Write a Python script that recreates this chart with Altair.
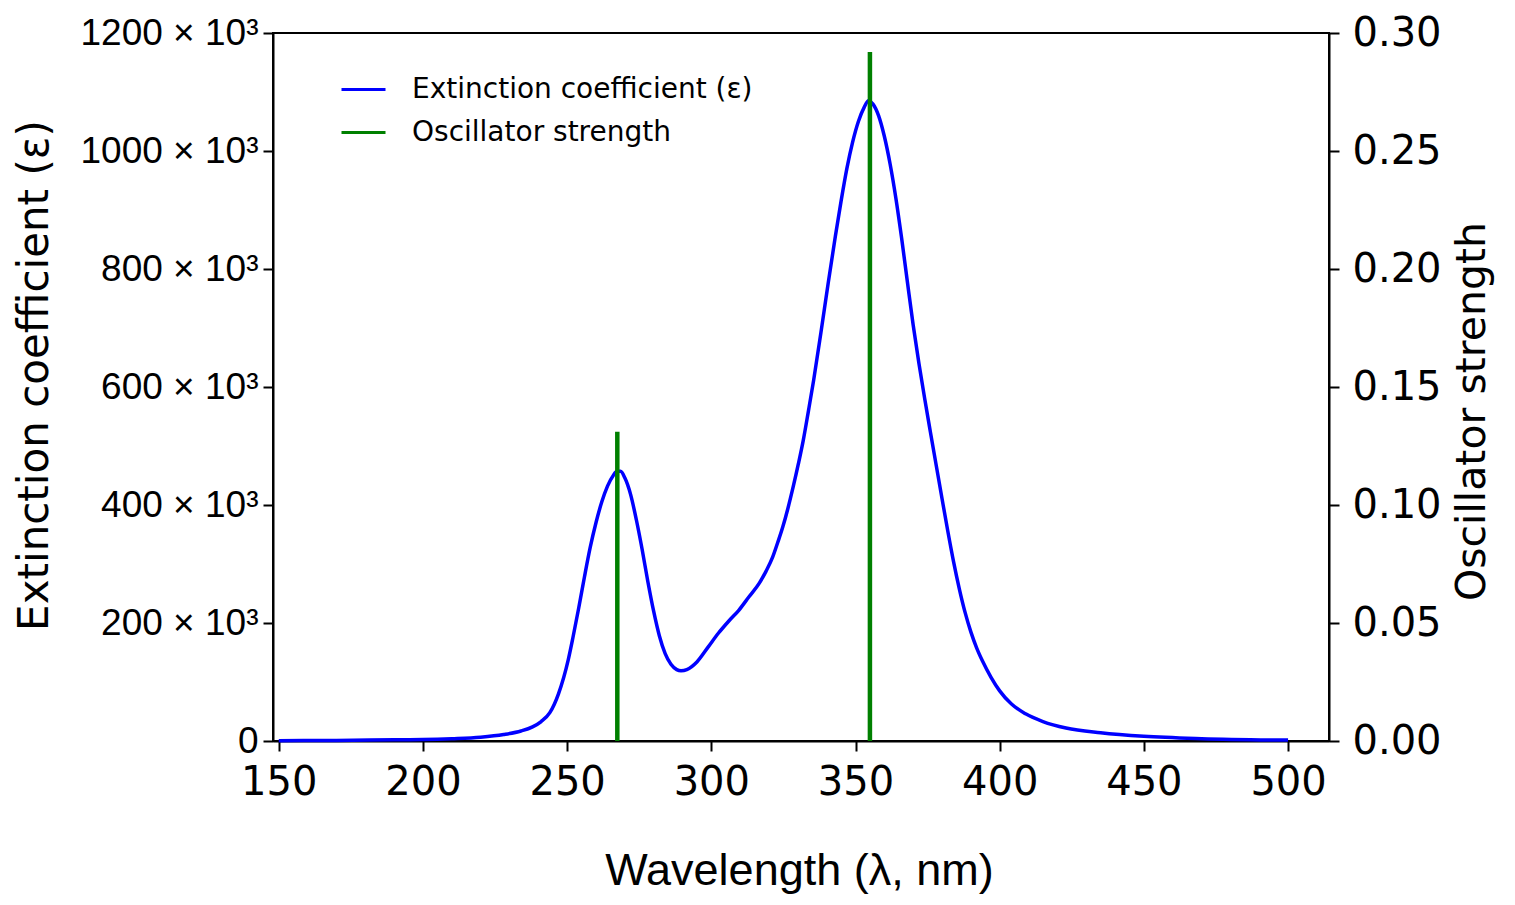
import altair as alt
import pandas as pd

# ---- data ----
wavelength = [150, 170, 190, 200, 210, 220, 228, 234, 238, 241, 244, 247, 250.4, 252, 254,
              256, 258, 260, 262, 264, 266, 267.3, 268.5, 270, 272, 274, 276, 278, 280,
              282, 284, 286, 288, 289.5, 291.5, 295, 299, 302.5, 306, 309.6, 313, 316.7,
              319, 321.3, 323, 324.8, 326.6, 328.4, 330.2, 331.9, 333.7, 335.5, 338, 340.5,
              343, 345, 347, 349, 351, 353, 354.5, 356, 358, 360, 362, 364, 366, 368,
              370, 372, 374, 376, 378, 380, 382, 384, 386, 388, 390, 392, 394, 397,
              400, 404, 409, 415, 423, 435, 450, 470, 500]
epsilon_k = [0.5, 1, 2, 2.5, 4, 6.5, 11, 17, 24, 33, 48, 80, 138, 175, 225,
             278, 328, 370, 405, 432, 450, 457, 457, 446, 418, 375, 325, 270, 220,
             178, 148, 130, 121, 119, 121, 134, 160, 183, 203, 222, 244, 268,
             288, 312, 336, 363, 395, 431, 470, 510, 560, 612, 692, 775,
             855, 915, 970, 1015, 1050, 1074, 1085, 1080, 1060, 1025, 978, 920, 852, 778,
             705, 640, 580, 523, 467, 411, 356, 304, 258, 218, 185, 158, 136, 108,
             85, 63, 46, 33, 22, 14, 8, 4, 1.5]

osc_wavelength = [267.4, 355.0]
osc_strength = [0.131, 0.292]

x_ticks = [150, 200, 250, 300, 350, 400, 450, 500]
eps_ticks = [0, 200, 400, 600, 800, 1000, 1200]
osc_ticks = [0.0, 0.05, 0.10, 0.15, 0.20, 0.25, 0.30]

S1 = "Extinction coefficient (ε)"
S2 = "Oscillator strength"

spec_df = pd.DataFrame({"wl": wavelength, "eps": epsilon_k, "series": S1})
osc_df = pd.DataFrame({"wl": osc_wavelength, "f": osc_strength, "series": S2})

xscale = alt.Scale(domain=[148, 514.2], nice=False, zero=False)

color = alt.Color(
    "series:N",
    scale=alt.Scale(domain=[S1, S2], range=["#0000ff", "#008000"]),
    legend=alt.Legend(
        title=None,
        orient="none",
        legendX=67,
        legendY=33,
        symbolType="stroke",
        symbolSize=1936,
        symbolStrokeWidth=3,
        labelFont="DejaVu Sans",
        labelFontSize=28,
        labelColor="black",
        labelOffset=25,
        labelLimit=600,
        rowPadding=5,
        padding=0,
    ),
)

line = alt.Chart(spec_df).mark_line(strokeWidth=3.5, interpolate="monotone").encode(
    x=alt.X(
        "wl:Q",
        scale=xscale,
        axis=alt.Axis(
            values=x_ticks,
            title="Wavelength (λ, nm)",
            titleFont="Liberation Sans",
            titleFontSize=45,
            titleFontWeight="normal",
            titleColor="black",
            titleX=526,
            titleY=143,
            titleBaseline="alphabetic",
            titleAlign="center",
            labelFont="DejaVu Sans",
            labelFontSize=40,
            labelColor="black",
            labelPadding=11,
            labelFlush=False,
            tickSize=10,
            tickWidth=2,
            tickColor="black",
            domainColor="black",
            domainWidth=2,
            grid=False,
        ),
    ),
    y=alt.Y(
        "eps:Q",
        scale=alt.Scale(domain=[0, 1200], nice=False),
        axis=alt.Axis(
            orient="left",
            values=eps_ticks,
            labelExpr="datum.value == 0 ? '0' : datum.value + ' × 10³'",
            title=S1,
            titleFont="DejaVu Sans",
            titleFontSize=42,
            titleFontWeight="normal",
            titleColor="black",
            titleAngle=270,
            titleX=-217,
            titleY=342,
            titleAlign="center",
            titleBaseline="bottom",
            labelFont="Liberation Sans",
            labelFontSize=37,
            labelColor="black",
            labelPadding=5,
            labelFlush=False,
            tickSize=10,
            tickWidth=2,
            tickColor="black",
            domainColor="black",
            domainWidth=2,
            grid=False,
        ),
    ),
    color=color,
)

rules = alt.Chart(osc_df).mark_rule(strokeWidth=4.5).encode(
    x=alt.X("wl:Q", scale=xscale),
    y=alt.Y(
        "f:Q",
        scale=alt.Scale(domain=[0, 0.3], nice=False),
        axis=alt.Axis(
            orient="right",
            values=osc_ticks,
            format=".2f",
            title=S2,
            titleFont="DejaVu Sans",
            titleFontSize=41,
            titleFontWeight="normal",
            titleColor="black",
            titleAngle=270,
            titleX=164,
            titleY=378,
            titleAlign="center",
            titleBaseline="bottom",
            labelFont="DejaVu Sans",
            labelFontSize=40,
            labelColor="black",
            labelPadding=13,
            labelFlush=False,
            tickSize=10,
            tickWidth=2,
            tickColor="black",
            domainColor="black",
            domainWidth=2,
            grid=False,
        ),
    ),
    y2=alt.datum(0),
    color=color,
)

chart = (
    alt.layer(line, rules)
    .resolve_scale(y="independent")
    .properties(
        width=1056,
        height=708,
        autosize=alt.AutoSizeParams(type="none"),
        padding={"left": 265, "top": 25, "right": 170, "bottom": 155},
        background="white",
    )
    .configure_view(stroke="black", strokeWidth=2)
)

chart.save("out.html", embed_options={"renderer": "svg", "actions": False})
